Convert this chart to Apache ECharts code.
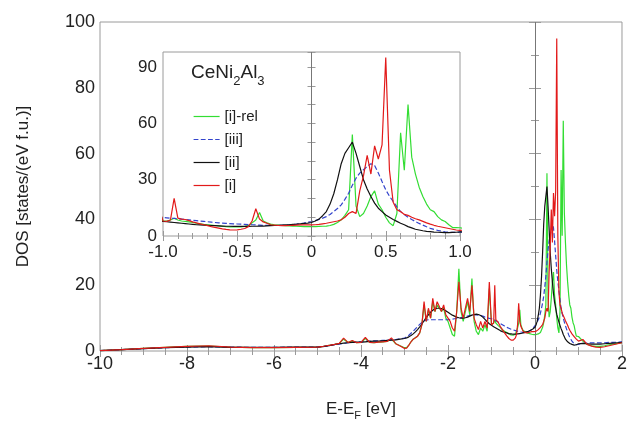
<!DOCTYPE html>
<html><head><meta charset="utf-8">
<script src="https://cdn.jsdelivr.net/npm/echarts@6/dist/echarts.min.js"></script>
<style>html,body{margin:0;padding:0;background:#fff}#c{width:630px;height:427px}</style>
</head><body><div id="c"></div>
<script>
// Energy grid (eV relative to E_F)
const energy = [
 -10,-9.5,-9,-8.5,-8,-7.5,-7,-6.5,-6,-5.5,
 -5,-4.9,-4.8,-4.7,-4.6,-4.5,-4.4,-4.3,-4.2,-4.1,-4,-3.9,-3.8,-3.7,-3.6,-3.5,-3.4,-3.3,-3.2,-3.1,
 -3,-2.95,-2.9,-2.85,-2.8,-2.75,-2.7,-2.65,-2.6,-2.55,-2.5,-2.45,-2.4,-2.35,-2.3,-2.25,-2.2,-2.15,-2.1,-2.05,
 -2,-1.95,-1.9,-1.85,-1.8,-1.75,-1.7,-1.65,-1.6,-1.55,-1.5,-1.45,-1.4,-1.35,-1.3,-1.25,-1.2,-1.15,-1.1,-1.05,
 -1,-0.975,-0.95,-0.925,-0.9,-0.875,-0.85,-0.825,-0.8,-0.775,-0.75,-0.725,-0.7,-0.675,-0.65,-0.625,-0.6,-0.575,-0.55,-0.525,
 -0.5,-0.475,-0.45,-0.425,-0.4,-0.375,-0.35,-0.325,-0.3,-0.275,-0.25,-0.225,-0.2,-0.175,-0.15,-0.125,-0.1,-0.075,-0.05,-0.025,
 0,0.025,0.05,0.075,0.1,0.125,0.15,0.175,0.2,0.225,0.25,0.275,0.3,0.325,0.35,0.375,0.4,0.425,0.45,0.475,
 0.5,0.525,0.55,0.575,0.6,0.625,0.65,0.675,0.7,0.725,0.75,0.775,0.8,0.825,0.85,0.875,0.9,0.925,0.95,0.975,
 1,1.1,1.2,1.3,1.4,1.5,1.6,1.7,1.8,1.9,2
];
// [i]-rel (green)
const dosIrel = [
 0.1,0.4,0.8,1.1,1.4,1.5,1.2,1.0,1.0,1.1,
 1.2,1.3,1.6,1.8,2.0,2.3,3.6,2.6,3.0,2.5,2.6,3.8,2.6,2.5,2.7,2.8,2.9,3.6,2.2,1.6,
 1.0,1.0,1.8,2.8,3.6,4.0,4.5,5.5,8.0,14.0,9.0,12.5,10.0,15.0,12.0,14.0,13.0,12.0,13.0,10.0,
 9.0,7.0,5.0,4.5,12.0,25.0,12.0,9.0,12.0,15.0,11.0,22.0,9.0,6.0,5.0,7.0,6.0,8.0,6.0,19.0,
 8.0,8.0,8.5,9.5,8.5,8.0,7.8,7.5,7.2,6.8,6.5,6.2,6.0,5.8,5.6,5.4,5.2,5.0,4.9,4.8,
 4.8,4.9,5.1,5.5,7.0,8.5,12.5,8.0,7.0,6.3,6.0,5.8,5.6,5.5,5.4,5.3,5.2,5.1,5.0,5.0,
 5.0,5.0,5.1,5.2,5.3,5.6,6.2,7.2,8.6,11.0,14.0,54.0,16.0,10.3,12.0,16.0,21.0,24.0,17.0,14.0,
 10.0,7.0,5.5,12.0,55.0,35.0,70.0,42.0,33.0,26.0,21.0,17.0,14.0,13.0,10.3,8.6,7.7,6.0,4.5,4.5,
 4.4,3.0,2.0,1.6,1.4,1.4,1.6,1.9,2.1,2.3,2.5
];
// [iii] (blue dashed)
const dosIII = [
 0.1,0.4,0.7,1.0,1.2,1.3,1.2,1.1,1.1,1.2,
 1.2,1.3,1.5,1.7,1.9,2.1,2.3,2.5,2.6,2.7,2.8,2.9,3.0,3.1,3.1,3.2,3.3,3.4,3.5,3.7,
 3.9,4.3,4.8,5.4,6.0,6.7,7.4,8.1,8.7,9.1,9.4,9.5,9.5,9.5,9.5,9.5,9.5,9.5,9.5,9.5,
 9.5,9.6,9.7,9.8,9.9,10.0,10.1,10.2,10.4,10.6,10.8,10.9,11.0,11.0,10.9,10.8,10.6,10.3,10.1,9.9,
 9.8,9.7,9.5,9.4,9.2,9.0,8.8,8.6,8.4,8.2,8.0,7.8,7.6,7.4,7.2,7.0,6.9,6.7,6.6,6.5,
 6.4,6.3,6.2,6.1,6.0,5.9,5.8,5.7,5.7,5.6,5.6,5.6,5.7,5.8,5.9,6.1,6.3,6.6,6.9,7.3,
 7.7,8.2,8.8,9.5,10.3,11.5,13.0,14.6,16.6,19.5,22.8,27.0,30.8,33.5,35.3,37.0,38.5,37.5,33.5,29.0,
 24.6,21.2,18.4,15.5,13.0,11.4,10.0,8.8,7.7,6.7,5.8,4.9,4.1,3.5,3.0,2.6,2.2,2.0,1.9,1.9,
 2.0,2.3,2.4,2.5,2.5,2.5,2.5,2.6,2.6,2.7,2.8
];
// [ii] (black)
const dosII = [
 0.1,0.4,0.7,1.0,1.2,1.3,1.1,1.1,1.1,1.2,
 1.2,1.3,1.5,1.7,2.0,2.2,2.4,2.5,2.6,2.7,2.7,2.8,2.9,3.0,3.0,3.1,3.2,3.3,3.4,3.6,
 3.8,4.0,4.3,4.7,5.2,5.8,6.5,7.3,8.2,9.2,10.2,11.0,11.8,12.4,12.8,13.0,13.0,12.9,12.6,12.2,
 11.8,11.3,10.9,10.6,10.3,10.1,10.0,10.0,10.1,10.3,10.6,10.9,11.1,11.2,11.1,10.8,10.3,9.6,8.9,8.3,
 7.8,7.6,7.4,7.2,7.0,6.8,6.6,6.4,6.2,6.0,5.9,5.8,5.7,5.6,5.5,5.4,5.3,5.2,5.2,5.1,
 5.1,5.1,5.1,5.1,5.2,5.2,5.3,5.3,5.4,5.5,5.6,5.7,5.8,5.9,6.0,6.2,6.3,6.5,6.7,6.9,
 7.2,8.0,9.0,10.8,13.0,17.0,22.5,30.0,38.5,44.0,47.0,50.0,44.0,37.0,30.0,25.0,21.0,17.5,14.8,13.0,
 11.2,10.0,8.8,7.8,6.8,6.0,5.0,4.3,3.6,3.2,2.8,2.5,2.3,2.1,2.0,1.9,1.8,1.8,1.9,2.0,
 2.2,2.3,2.2,2.1,2.1,2.1,2.2,2.3,2.4,2.5,2.6
];
// [i] (red)
const dosI = [
 0.1,0.4,0.8,1.1,1.4,1.6,1.2,1.0,1.0,1.1,
 1.2,1.3,1.6,1.8,2.0,2.3,3.9,2.6,3.2,2.5,2.6,4.1,2.6,2.5,2.7,2.8,2.9,4.0,2.2,1.5,
 0.8,0.9,1.8,2.8,3.6,4.0,4.5,5.5,8.0,15.0,9.0,13.0,10.0,16.0,12.0,15.0,13.5,12.0,14.0,11.0,
 10.0,9.0,7.0,6.0,12.0,21.0,13.0,10.0,13.0,16.0,12.0,20.0,10.0,8.0,6.5,9.0,7.0,9.0,7.0,21.0,
 8.0,7.8,8.5,20.0,9.5,9.0,8.8,8.2,7.5,7.0,6.5,6.0,5.5,5.0,4.6,4.2,3.8,3.5,3.3,3.2,
 3.3,3.6,4.0,5.0,8.0,14.5,9.0,7.5,6.8,6.0,5.8,5.6,5.5,5.5,5.6,5.7,5.8,5.9,5.9,5.9,
 5.9,6.0,6.2,6.5,6.8,7.2,7.6,8.0,8.6,10.0,12.0,13.0,12.0,24.0,32.0,43.0,33.0,48.0,41.0,48.5,
 95.0,35.0,18.0,14.0,13.0,11.5,11.0,10.0,9.2,8.6,7.8,7.0,6.3,5.7,5.2,4.8,4.4,4.0,3.6,3.2,
 3.0,3.5,2.0,1.5,1.2,1.1,1.3,1.6,1.9,2.2,2.5
];
const seriesNames = ['[i]-rel','[iii]','[ii]','[i]'];
const seriesValues = [dosIrel, dosIII, dosII, dosI];
const seriesColors = ['#33dd33','#3344cc','#111111','#e21a1a'];
const seriesDash = ['solid','dashed','solid','solid'];
const mainYTicks = [0,20,40,60,80,100];
const insetYTicks = [0,30,60,90];
const insetXTicks = ['-1.0','-0.5','0','0.5','1.0'];

const FONT = "'Liberation Sans', Arial, sans-serif";
const GRAY = '#9a9a9a';

function axisCommon(extra) {
  return Object.assign({
    type: 'value',
    splitLine: {show: false},
    axisLine: {show: false},
    axisTick: {show: true, inside: true, length: 6, lineStyle: {color: GRAY}},
    minorTick: {show: true, length: 3, lineStyle: {color: GRAY}},
    axisLabel: {show: true, color: '#222', fontFamily: FONT, fontSize: 18}
  }, extra);
}

const xAxes = [
  axisCommon({gridIndex: 0, min: -10, max: 2, interval: 2, position: 'bottom',
    minorTick: {show: true, splitNumber: 4, length: 4, lineStyle: {color: GRAY}},
    axisLabel: {show: true, color: '#222', fontFamily: FONT, fontSize: 18, margin: 4},
    name: 'E-E{sub|F} [eV]', nameLocation: 'middle', nameGap: 46,
    nameTextStyle: {color: '#222', fontFamily: FONT, fontSize: 17,
      rich: {sub: {fontSize: 11, fontFamily: FONT, color: '#222', verticalAlign: 'bottom', lineHeight: 24}}}}),
  axisCommon({gridIndex: 0, min: -10, max: 2, interval: 2, position: 'top',
    minorTick: {show: true, splitNumber: 4, length: 4, lineStyle: {color: GRAY}},
    axisLabel: {show: false}}),
  axisCommon({gridIndex: 1, min: -1, max: 1, interval: 0.5, position: 'bottom',
    minorTick: {show: true, splitNumber: 5, length: 3, lineStyle: {color: GRAY}},
    axisTick: {show: true, inside: true, length: 5, lineStyle: {color: GRAY}},
    axisLabel: {show: true, color: '#222', fontFamily: FONT, fontSize: 17, margin: 8,
      formatter: v => { const k = Math.round((v + 1) * 2); return insetXTicks[k] !== undefined ? insetXTicks[k] : ''; }}}),
  axisCommon({gridIndex: 1, min: -1, max: 1, interval: 0.5, position: 'top',
    minorTick: {show: true, splitNumber: 5, length: 3, lineStyle: {color: GRAY}},
    axisTick: {show: true, inside: true, length: 5, lineStyle: {color: GRAY}},
    axisLabel: {show: false}})
];
const yAxes = [
  axisCommon({gridIndex: 0, min: 0, max: 100, interval: 20, position: 'left',
    minorTick: {show: true, splitNumber: 2, length: 4, lineStyle: {color: GRAY}},
    axisLabel: {show: true, color: '#222', fontFamily: FONT, fontSize: 18, margin: 5,
      formatter: v => mainYTicks.includes(v) ? String(v) : ''},
    name: 'DOS [states/(eV f.u.)]', nameLocation: 'middle', nameGap: 68,
    nameTextStyle: {color: '#222', fontFamily: FONT, fontSize: 17}}),
  axisCommon({gridIndex: 0, min: 0, max: 100, interval: 20, position: 'right',
    minorTick: {show: true, splitNumber: 2, length: 4, lineStyle: {color: GRAY}},
    axisLabel: {show: false}}),
  axisCommon({gridIndex: 1, min: 0, max: 98, interval: 10, position: 'left',
    minorTick: {show: false},
    axisTick: {show: true, inside: true, length: 4, lineStyle: {color: GRAY}},
    axisLabel: {show: true, color: '#222', fontFamily: FONT, fontSize: 17, margin: 6,
      formatter: v => insetYTicks.includes(v) ? String(v) : ''}}),
  axisCommon({gridIndex: 1, min: 0, max: 98, interval: 10, position: 'right',
    minorTick: {show: false},
    axisTick: {show: true, inside: true, length: 4, lineStyle: {color: GRAY}},
    axisLabel: {show: false}})
];

function pairs(vals) { return energy.map((e, k) => [e, vals[k]]); }

const series = [];
[0, 2].forEach(ax => {
  seriesNames.forEach((name, s) => {
    const item = {
      name: name, type: 'line', xAxisIndex: ax, yAxisIndex: ax,
      data: pairs(seriesValues[s]), showSymbol: false, symbol: 'none',
      clip: true, z: 3 + s,
      lineStyle: {color: seriesColors[s], width: 1.2, type: seriesDash[s]},
      itemStyle: {color: seriesColors[s]}
    };
    if (s === 0) {
      item.markLine = {silent: true, symbol: 'none', label: {show: false},
        lineStyle: {color: '#777', type: 'solid', width: 1}, data: [{xAxis: 0}]};
    }
    series.push(item);
  });
});

const chart = echarts.init(document.getElementById('c'), null, {renderer: 'canvas'});
chart.setOption({
  animation: false,
  backgroundColor: '#fff',
  grid: [
    {left: 100, right: 7, top: 22, bottom: 76, show: true, borderColor: GRAY, borderWidth: 1, backgroundColor: '#fff'},
    {left: 163, right: 170, top: 52, bottom: 191, show: true, borderColor: GRAY, borderWidth: 1, backgroundColor: '#fff'}
  ],
  title: {
    text: 'CeNi{s|2}Al{s|3}', left: 186, top: 53,
    textStyle: {color: '#222', fontFamily: FONT, fontSize: 19, fontWeight: 'normal',
      rich: {s: {fontSize: 13, fontFamily: FONT, color: '#222', verticalAlign: 'bottom', lineHeight: 30}}}
  },
  legend: {
    data: seriesNames, orient: 'vertical', left: 188, top: 104,
    itemWidth: 26, itemHeight: 12, itemGap: 8,
    itemStyle: {opacity: 0},
    lineStyle: {width: 1.2},
    textStyle: {color: '#222', fontFamily: FONT, fontSize: 15}
  },
  xAxis: xAxes,
  yAxis: yAxes,
  series: series
});
</script>
</body></html>
